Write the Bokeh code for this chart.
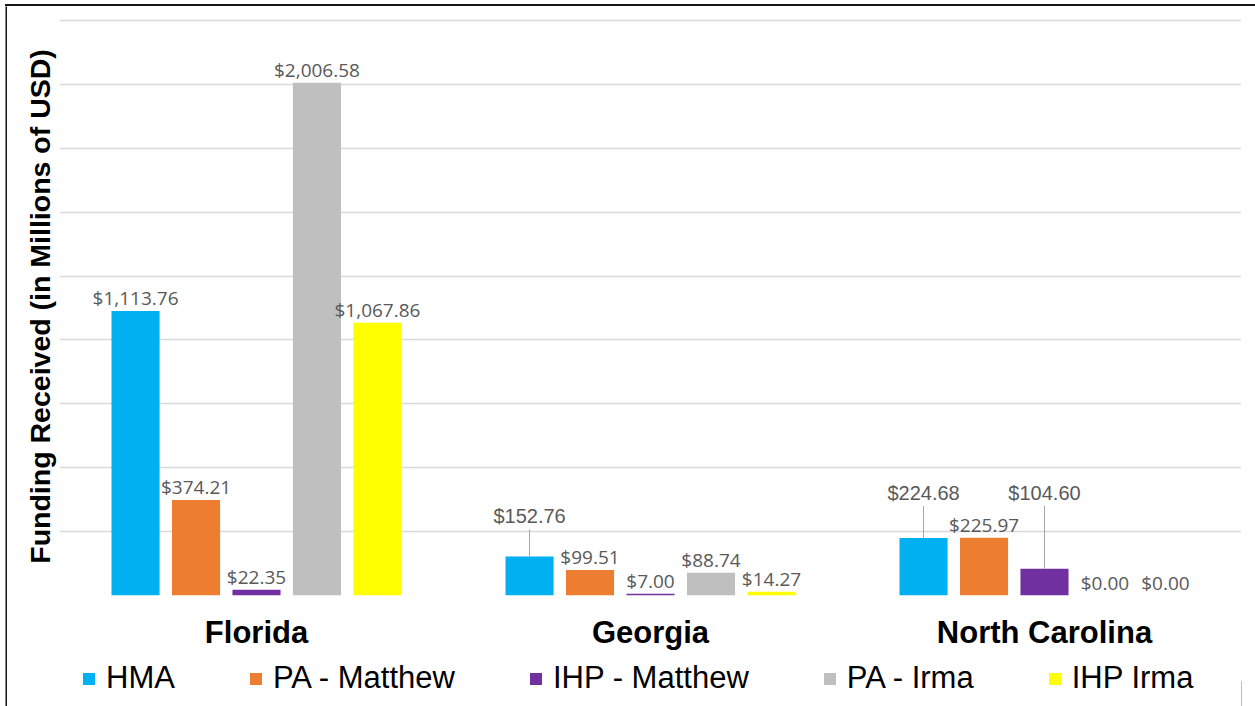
from bokeh.plotting import figure
from bokeh.layouts import column, row
from bokeh.models import FactorRange, Range1d, ColumnDataSource, FixedTicker, Legend, Spacer, Div
from bokeh.transform import dodge
from bokeh.core.properties import value
from bokeh.embed import file_html
from bokeh.resources import INLINE

# ---- data ----
states = ["Florida", "Georgia", "North Carolina"]
series_names = ["HMA", "PA - Matthew", "IHP - Matthew", "PA - Irma", "IHP Irma"]
hma = [1113.76, 152.76, 224.68]
pa_matthew = [374.21, 99.51, 225.97]
ihp_matthew = [22.35, 7.00, 104.60]
pa_irma = [2006.58, 88.74, 0.00]
ihp_irma = [1067.86, 14.27, 0.00]
series_values = [hma, pa_matthew, ihp_matthew, pa_irma, ihp_irma]
gridline_values = [0, 250, 500, 750, 1000, 1250, 1500, 1750, 2000, 2250]

# ---- style ----
colors = ["#00B0F0", "#ED7D31", "#7030A0", "#BFBFBF", "#FFFF00"]
offsets = [-0.307, -0.1535, 0.0, 0.1535, 0.307]
bar_width = 0.122
# labels lifted with a leader line: (state, series) -> baseline height above bar top, px
leader_px = {("Georgia", "HMA"): 33, ("North Carolina", "HMA"): 38,
             ("North Carolina", "IHP - Matthew"): 69}
FRAME_H = 578
Y_TOP = 2262
px_per_unit = FRAME_H / Y_TOP
label_gap = 13
baseline_fix = 7
SVG = dict(output_backend="svg", toolbar_location=None)

p = figure(x_range=FactorRange(*states, range_padding=0), y_range=Range1d(0, Y_TOP),
           frame_width=1182, frame_height=FRAME_H,
           min_border_left=52, min_border_right=14, min_border_top=11, min_border_bottom=60,
           title=None, **SVG)
p.outline_line_color = None
p.background_fill_color = "white"
p.border_fill_color = "white"

for name, vals, col, off in zip(series_names, series_values, colors, offsets):
    src = ColumnDataSource(dict(state=states, val=vals))
    p.vbar(x=dodge("state", off, range=p.x_range), top="val", width=bar_width,
           source=src, fill_color=col, line_color=None)

    norm = dict(state=[], val=[], label=[])
    lead = dict(state=[], val=[], label=[], yoff=[], ytop=[])
    for s, v in zip(states, vals):
        lab = "${:,.2f}".format(v)
        if (s, name) in leader_px:
            h = leader_px[(s, name)]
            lead["state"].append(s); lead["val"].append(v); lead["label"].append(lab)
            lead["yoff"].append(-(h + baseline_fix)); lead["ytop"].append(v + (h - 6) / px_per_unit)
        else:
            norm["state"].append(s); norm["val"].append(v); norm["label"].append(lab)
    if norm["state"]:
        p.text(x=dodge("state", off, range=p.x_range), y="val", text="label",
               source=ColumnDataSource(norm), y_offset=-label_gap,
               text_align="center", text_baseline="alphabetic",
               text_font=value("Open Sans"), text_font_size="19px", text_color="#595959")
    if lead["state"]:
        lsrc = ColumnDataSource(lead)
        p.segment(x0=dodge("state", off, range=p.x_range), y0="val",
                  x1=dodge("state", off, range=p.x_range), y1="ytop",
                  source=lsrc, line_color="#A6A6A6", line_width=1)
        p.text(x=dodge("state", off, range=p.x_range), y="val", text="label",
               source=lsrc, y_offset="yoff",
               text_align="center", text_baseline="alphabetic",
               text_font=value("Liberation Sans"), text_font_size="20px", text_color="#595959")

# axes
p.yaxis.ticker = FixedTicker(ticks=[])
p.ygrid.ticker = FixedTicker(ticks=gridline_values)
p.yaxis.major_label_standoff = 0
p.yaxis.major_tick_line_color = None
p.yaxis.minor_tick_line_color = None
p.yaxis.axis_line_color = None
p.yaxis.axis_label = "Funding Received (in Millions of USD)"
p.yaxis.axis_label_text_font = "Liberation Sans"
p.yaxis.axis_label_text_font_style = "bold"
p.yaxis.axis_label_text_font_size = "28.5px"
p.yaxis.axis_label_text_color = "black"
p.yaxis.axis_label_standoff = 4

p.xaxis.axis_line_color = None
p.xaxis.major_tick_line_color = None
p.xaxis.minor_tick_line_color = None
p.xaxis.major_label_text_font = "Liberation Sans"
p.xaxis.major_label_text_font_style = "bold"
p.xaxis.major_label_text_font_size = "31px"
p.xaxis.major_label_text_color = "black"
p.xaxis.major_label_standoff = 13

p.xgrid.grid_line_color = None
p.ygrid.grid_line_color = "#D9D9D9"
p.ygrid.grid_line_width = 1.5

# legend strip below the chart (swatch renderers sit outside the visible range)
lf = figure(width=1248, height=51, x_range=(0, 1), y_range=(0, 1),
            x_axis_type=None, y_axis_type=None, title=None, min_border=0,
            outline_line_color=None, **SVG)
items = []
for name, col in zip(series_names, colors):
    r = lf.vbar(x=[5], top=[0.5], width=0.1, fill_color=col, line_color=None)
    items.append((name, [r]))
lg = Legend(items=items, orientation="horizontal", location=(22, 10),
            label_text_font="Liberation Sans", label_text_font_size="31px",
            label_text_color="black", glyph_width=15, glyph_height=15,
            label_standoff=10, spacing=73, padding=0, margin=0,
            border_line_color=None, background_fill_alpha=0)
lf.add_layout(lg)

# dark frame around the chart image (top and left edges)
top_line = Div(text='<div style="height:2px;background:#151515"></div>',
               width=1250, height=2, margin=0,
               styles={"background-color": "#151515", "overflow": "visible"})
left_line = figure(width=2, height=700, x_axis_type=None, y_axis_type=None, title=None,
                   min_border=0, background_fill_color="#151515", border_fill_color="#151515",
                   outline_line_color=None, **SVG)

page = column(Spacer(width=1255, height=4, margin=0),
              row(Spacer(width=5, height=2, margin=0), top_line, spacing=0),
              row(Spacer(width=5, height=700, margin=0), left_line, column(p, lf, spacing=0), spacing=0),
              spacing=0)

open("out.html", "w").write(file_html(page, INLINE))
